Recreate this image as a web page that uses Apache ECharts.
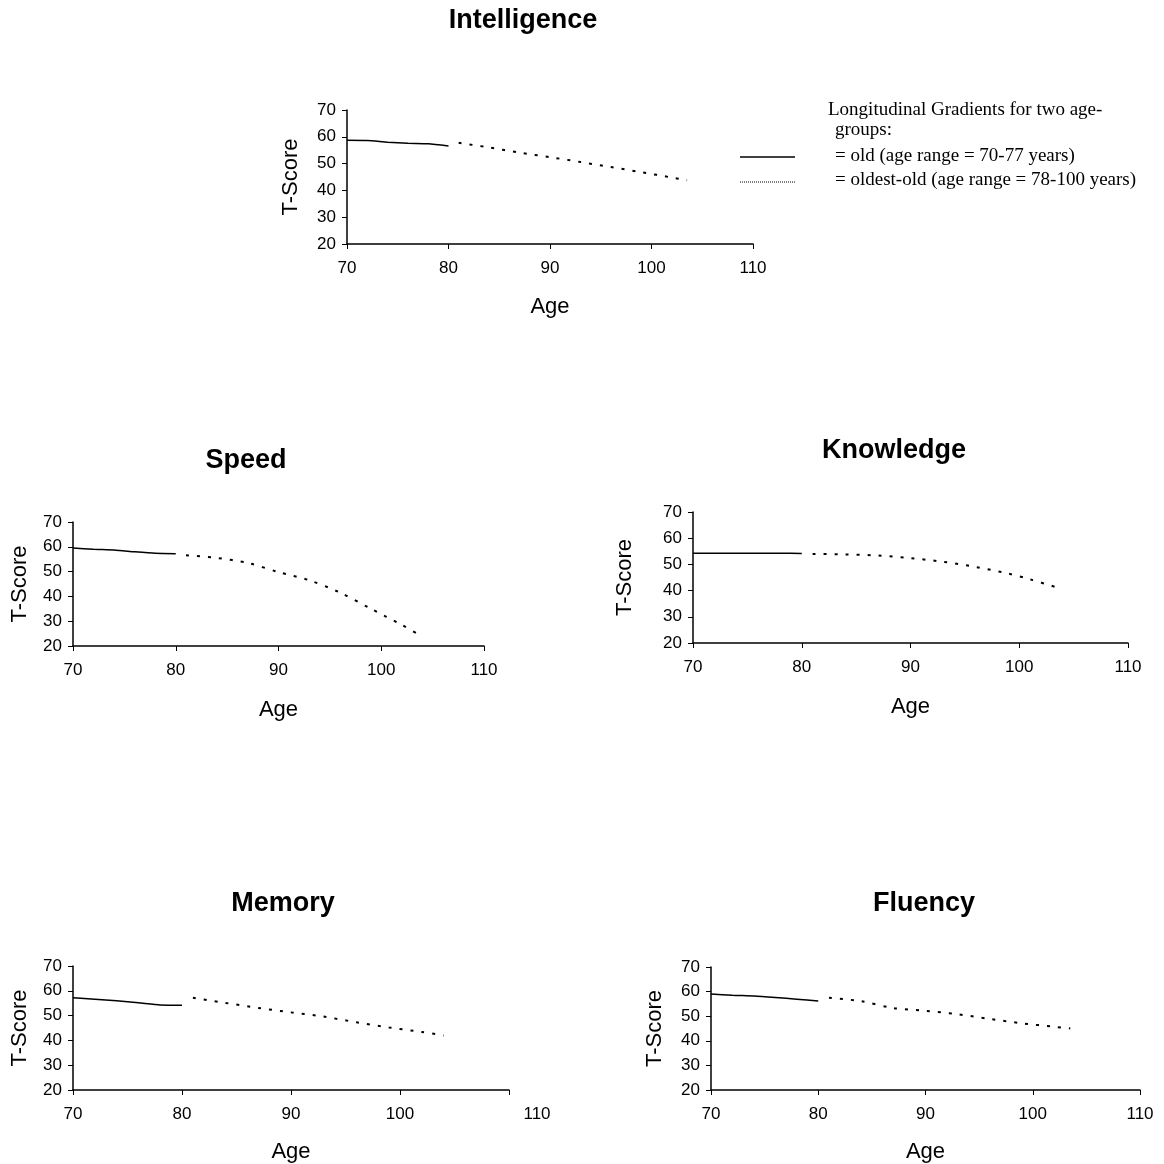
<!DOCTYPE html>
<html>
<head>
<meta charset="utf-8">
<script src="https://cdn.jsdelivr.net/npm/echarts@6/dist/echarts.min.js"></script>
<style>
html, body { margin: 0; padding: 0; background: #fff; }
#main { width: 1164px; height: 1164px; }
</style>
</head>
<body>
<div id="main"></div>
<script>
// ages for the "old" group (solid line)
var oldAges = [70, 72, 74, 76, 78, 80];

// Intelligence
var intelOld = [58.7, 58.6, 58.0, 57.6, 57.4, 56.6];
var intelOldestAges = [81, 84, 87, 90, 93, 96, 99, 102, 103.5];
var intelOldest = [57.8, 56.0, 54.1, 52.4, 50.6, 48.7, 46.8, 44.8, 43.8];

// Speed
var speedOld = [59.5, 59.0, 58.7, 58.0, 57.4, 57.2];
var speedOldestAges = [81, 84, 87, 90, 93, 96, 99, 102, 104];
var speedOldest = [56.6, 55.5, 53.5, 49.8, 46.5, 41.5, 35.0, 28.5, 23.8];

// Knowledge
var knowOld = [54.3, 54.3, 54.3, 54.3, 54.3, 54.2];
var knowOldestAges = [81, 84, 87, 90, 93, 96, 99, 101, 103.4];
var knowOldest = [54.0, 53.8, 53.4, 52.4, 51.0, 49.0, 46.5, 44.3, 41.3];

// Memory
var memOld = [57.2, 56.6, 56.0, 55.2, 54.3, 54.2];
var memOldestAges = [81, 84, 87, 90, 93, 96, 99, 102, 104];
var memOldest = [57.2, 55.1, 53.1, 51.3, 49.6, 47.3, 45.2, 43.4, 42.0];

// Fluency
var fluOld = [59.0, 58.5, 58.2, 57.6, 56.9, 56.2];
var fluOldestAges = [81, 84, 87, 90, 93, 96, 99, 102, 103.5];
var fluOldest = [57.5, 56.1, 53.3, 52.2, 50.8, 48.9, 47.1, 45.7, 45.0];

var yTicks = [20, 30, 40, 50, 60, 70];
var xTicks = [70, 80, 90, 100, 110];

var panels = [
    { name: 'Intelligence', old: intelOld, oldestAges: intelOldestAges, oldest: intelOldest,
      grid: { left: 347, top: 110, width: 406, height: 134 }, titleX: 518, titleY: 2, yGap: 45, xGap: 52 },
    { name: 'Speed', old: speedOld, oldestAges: speedOldestAges, oldest: speedOldest,
      grid: { left: 73, top: 522, width: 411, height: 124 }, titleX: 241, titleY: 442, yGap: 42, xGap: 53 },
    { name: 'Knowledge', old: knowOld, oldestAges: knowOldestAges, oldest: knowOldest,
      grid: { left: 693, top: 512, width: 435, height: 131 }, titleX: 889, titleY: 432, yGap: 57, xGap: 53 },
    { name: 'Memory', old: memOld, oldestAges: memOldestAges, oldest: memOldest,
      grid: { left: 73, top: 966, width: 436, height: 124 }, titleX: 278, titleY: 885, yGap: 42, xGap: 51, farLabel: true },
    { name: 'Fluency', old: fluOld, oldestAges: fluOldestAges, oldest: fluOldest,
      grid: { left: 711, top: 967, width: 429, height: 123 }, titleX: 919, titleY: 885, yGap: 45, xGap: 51 }
];

function pairs(xs, ys) {
    var out = [];
    for (var i = 0; i < xs.length; i++) out.push([xs[i], ys[i]]);
    return out;
}

var sans = 'Liberation Sans, Arial, sans-serif';
var serif = 'Liberation Serif, Times New Roman, serif';

var titles = [], grids = [], xAxes = [], yAxes = [], series = [];

panels.forEach(function (p, i) {
    titles.push({
        text: p.name, left: p.titleX, top: p.titleY, textAlign: 'center',
        textStyle: { fontFamily: sans, fontWeight: 'bold', fontSize: 27, color: '#000' }
    });
    grids.push(p.grid);
    xAxes.push({
        gridIndex: i, type: 'value', min: xTicks[0], max: xTicks[xTicks.length - 1], interval: 10,
        name: 'Age', nameLocation: 'middle', nameGap: p.xGap,
        nameTextStyle: { fontFamily: sans, fontSize: 22, color: '#000' },
        axisLine: { show: true, onZero: false, lineStyle: { color: '#000', width: 1.5 } },
        axisTick: { show: true, length: 5, lineStyle: { color: '#000' } },
        axisLabel: {
            fontFamily: sans, fontSize: 17, color: '#000', margin: 16, showMaxLabel: true,
            formatter: function (v) { return (p.farLabel && v === 110) ? '{far|110}' : v; },
            rich: { far: { padding: [0, 0, 0, 56], fontFamily: sans, fontSize: 17, color: '#000' } }
        },
        splitLine: { show: false }
    });
    yAxes.push({
        gridIndex: i, type: 'value', min: yTicks[0], max: yTicks[yTicks.length - 1], interval: 10,
        name: 'T-Score', nameLocation: 'middle', nameGap: p.yGap, nameRotate: 90,
        nameTextStyle: { fontFamily: sans, fontSize: 22, color: '#000' },
        axisLine: { show: true, onZero: false, lineStyle: { color: '#000', width: 1.5 } },
        axisTick: { show: true, length: 5, lineStyle: { color: '#000' } },
        axisLabel: { fontFamily: sans, fontSize: 17, color: '#000', margin: 11 },
        splitLine: { show: false }
    });
    series.push({
        name: 'old', type: 'line', xAxisIndex: i, yAxisIndex: i,
        data: pairs(oldAges, p.old), showSymbol: false, smooth: 0.2,
        lineStyle: { color: '#000', width: 1.5, type: 'solid' }, silent: true
    });
    series.push({
        name: 'oldest-old', type: 'line', xAxisIndex: i, yAxisIndex: i,
        data: pairs(p.oldestAges, p.oldest), showSymbol: false, smooth: 0.3,
        lineStyle: { color: '#000', width: 2, type: [3, 8] }, silent: true
    });
});

var myChart = echarts.init(document.getElementById('main'));
var option = {
    backgroundColor: '#fff',
    animation: false,
    title: titles,
    grid: grids,
    xAxis: xAxes,
    yAxis: yAxes,
    series: series,
    graphic: [
        { type: 'text', left: 828, top: 101, style: { text: 'Longitudinal Gradients for two age-', font: '19px ' + serif, fill: '#000' } },
        { type: 'text', left: 835, top: 121, style: { text: 'groups:', font: '19px ' + serif, fill: '#000' } },
        { type: 'text', left: 835, top: 147, style: { text: '= old (age range = 70-77 years)', font: '19px ' + serif, fill: '#000' } },
        { type: 'text', left: 835, top: 171, style: { text: '= oldest-old (age range = 78-100 years)', font: '19px ' + serif, fill: '#000' } },
        { type: 'line', shape: { x1: 740, y1: 157, x2: 795, y2: 157 }, style: { stroke: '#000', lineWidth: 1.5 } },
        { type: 'line', shape: { x1: 740, y1: 182, x2: 795, y2: 182 }, style: { stroke: '#000', lineWidth: 1, lineDash: [1, 1] } }
    ]
};
myChart.setOption(option);

window.onresize = function () {
    myChart.resize();
};
</script>
</body>
</html>
